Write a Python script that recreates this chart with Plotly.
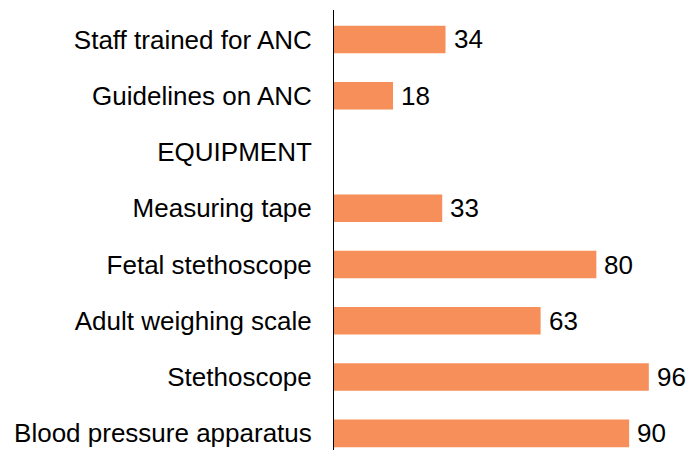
import plotly.graph_objects as go

categories = [
    "Staff trained for ANC",
    "Guidelines on ANC",
    "EQUIPMENT",
    "Measuring tape",
    "Fetal stethoscope",
    "Adult weighing scale",
    "Stethoscope",
    "Blood pressure apparatus",
]
values = [34, 18, None, 33, 80, 63, 96, 90]

BAR_COLOR = "#F68F5A"
FONT = "Liberation Sans, Arial, sans-serif"
FS = 26

fig = go.Figure()
fig.add_trace(go.Bar(
    y=categories,
    x=values,
    orientation="h",
    marker=dict(color=BAR_COLOR, line=dict(width=0)),
    hoverinfo="skip",
))

for c, v in zip(categories, values):
    if v is None:
        continue
    fig.add_annotation(
        x=v, y=c, text=str(v), showarrow=False,
        xanchor="left", yanchor="middle", xshift=6,
        font=dict(family=FONT, size=FS, color="#000000"),
    )

fig.update_layout(
    width=687, height=450,
    margin=dict(l=334, r=8, t=10, b=0),
    paper_bgcolor="white",
    plot_bgcolor="white",
    showlegend=False,
    bargap=0.51,
    font=dict(family=FONT, size=FS, color="#000000"),
)
fig.update_xaxes(
    range=[0, 105.2], visible=False, showgrid=False, zeroline=False,
)
fig.update_yaxes(
    categoryorder="array", categoryarray=categories,
    range=[7.296, -0.524],
    showline=True, linecolor="#000000", linewidth=1,
    showgrid=False, zeroline=False, ticks="",
    ticklabelstandoff=16,
    tickfont=dict(family=FONT, size=FS, color="#000000"),
)

fig.write_html(
    "out.html",
    config={"displayModeBar": False},
    post_script="document.body.style.margin='0';document.body.style.overflow='hidden';",
)
